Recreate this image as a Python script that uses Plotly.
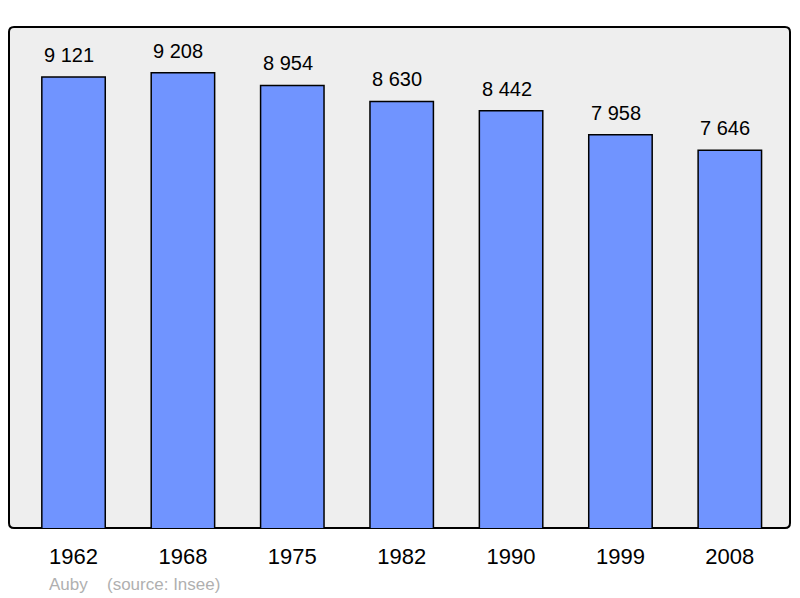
import plotly.graph_objects as go

years = ["1962", "1968", "1975", "1982", "1990", "1999", "2008"]
population = [9121, 9208, 8954, 8630, 8442, 7958, 7646]
value_labels = [f"{v:,}".replace(",", " ") for v in population]

positions = list(range(len(years)))
FONT = "Liberation Sans, Arial, sans-serif"

fig = go.Figure()
fig.add_trace(go.Bar(
    x=positions, y=population, width=0.58,
    marker=dict(color="#7094FF", line=dict(color="#000000", width=1.5)),
    hoverinfo="skip",
))

for xp, v, lab in zip(positions, population, value_labels):
    fig.add_annotation(x=xp, y=v, text=lab, showarrow=False, xref="x", yref="y",
                       yanchor="middle", yshift=22, xshift=-4.5,
                       font=dict(family=FONT, size=20, color="#000000"))

# rounded plot frame
x0, x1, y0, y1 = 0.0, 1.0, 0.0, 1.0
rx, ry = 5 / 781, 5 / 501
path = (f"M {x0+rx},{y0} H {x1-rx} Q {x1},{y0} {x1},{y0+ry} V {y1-ry} "
        f"Q {x1},{y1} {x1-rx},{y1} H {x0+rx} Q {x0},{y1} {x0},{y1-ry} "
        f"V {y0+ry} Q {x0},{y0} {x0+rx},{y0} Z")
fig.add_shape(type="path", path=path, xref="paper", yref="paper",
              fillcolor="#EEEEEE", line=dict(color="#000000", width=2), layer="below")

fig.add_annotation(x=0, y=0, xref="paper", yref="paper", text="Auby", showarrow=False,
                   xanchor="left", yanchor="middle", xshift=38, yshift=-56,
                   font=dict(family=FONT, size=17, color="#B0B0B0"))
fig.add_annotation(x=0, y=0, xref="paper", yref="paper", text="(source: Insee)", showarrow=False,
                   xanchor="left", yanchor="middle", xshift=96, yshift=-56,
                   font=dict(family=FONT, size=17, color="#B0B0B0"))

fig.update_layout(
    width=800, height=598,
    margin=dict(l=9, r=10, t=27, b=70),
    paper_bgcolor="#FFFFFF", plot_bgcolor="rgba(0,0,0,0)",
    showlegend=False,
    xaxis=dict(range=[-0.59, 6.55], tickvals=positions, ticktext=years,
               showgrid=False, zeroline=False, showline=False,
               ticks="outside", ticklen=9, tickcolor="rgba(0,0,0,0)",
               tickfont=dict(family=FONT, size=22, color="#000000")),
    yaxis=dict(range=[40, 10130], showgrid=False, zeroline=False, showline=False,
               showticklabels=False, ticks=""),
)

fig.write_html("out.html", config={"displayModeBar": False},
               post_script="document.body.style.margin='0';document.body.style.overflow='hidden';")
